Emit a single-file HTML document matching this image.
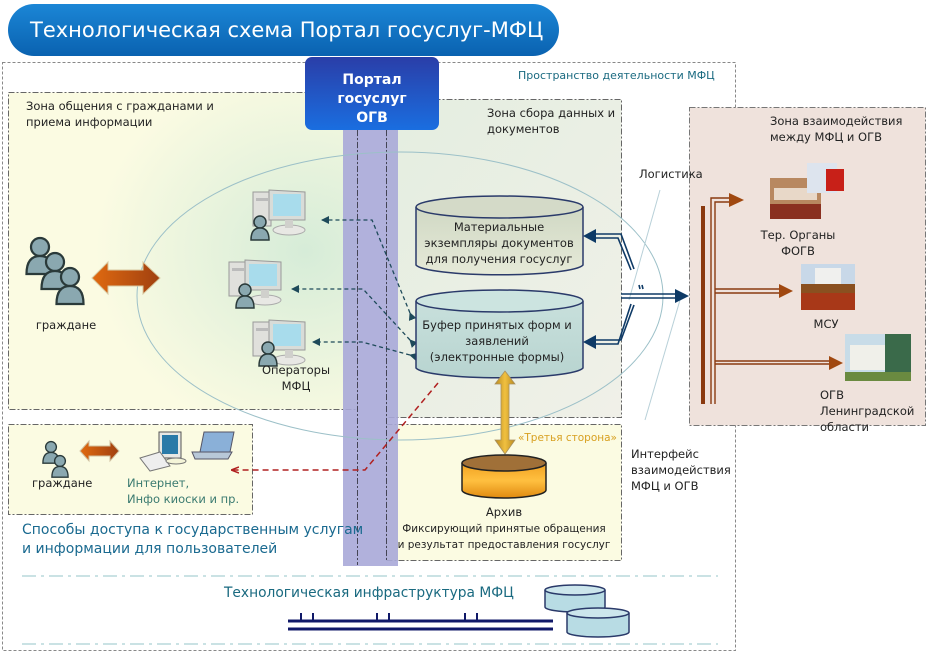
<!DOCTYPE html>
<html><head><meta charset="utf-8"><style>
html,body{margin:0;padding:0;background:#fff;width:950px;height:653px;overflow:hidden}
svg{display:block}
text{font-family:"DejaVu Sans","Liberation Sans",sans-serif}
</style></head><body>
<svg width="950" height="653" viewBox="0 0 950 653" xmlns="http://www.w3.org/2000/svg">
<defs>
<linearGradient id="title" x1="0" y1="0" x2="0" y2="1"><stop offset="0" stop-color="#1b86d6"/><stop offset="1" stop-color="#0a62b0"/></linearGradient>
<linearGradient id="portal" x1="0" y1="0" x2="0" y2="1"><stop offset="0" stop-color="#2a3ea8"/><stop offset="1" stop-color="#1a6ee0"/></linearGradient>
<radialGradient id="zone1" cx="0.85" cy="0.5" r="0.6"><stop offset="0" stop-color="#d6ecd8"/><stop offset="1" stop-color="#fbfbe2"/></radialGradient>
<linearGradient id="zone2" x1="0" y1="0" x2="1" y2="1"><stop offset="0" stop-color="#e4eee0"/><stop offset="1" stop-color="#f0f0e8"/></linearGradient>
<linearGradient id="cyl1" x1="0" y1="0" x2="0" y2="1"><stop offset="0" stop-color="#d0d8c4"/><stop offset="1" stop-color="#e6ead8"/></linearGradient>
<linearGradient id="cyl2" x1="0" y1="0" x2="0" y2="1"><stop offset="0" stop-color="#c8e0dc"/><stop offset="1" stop-color="#b8d4d0"/></linearGradient>
<linearGradient id="orange" x1="0" y1="0" x2="0" y2="1"><stop offset="0" stop-color="#f0a020"/><stop offset="0.5" stop-color="#ffc040"/><stop offset="1" stop-color="#e08a10"/></linearGradient>
<linearGradient id="oarrow" x1="0" y1="0" x2="1" y2="0"><stop offset="0" stop-color="#e06a10"/><stop offset="1" stop-color="#a04010"/></linearGradient>
<linearGradient id="goldv" x1="0" y1="0" x2="1" y2="0"><stop offset="0" stop-color="#b88a20"/><stop offset="0.5" stop-color="#f0c040"/><stop offset="1" stop-color="#b88a20"/></linearGradient>
<marker id="ah" markerWidth="8" markerHeight="8" refX="7" refY="4" orient="auto" markerUnits="userSpaceOnUse"><path d="M0,0 L8,4 L0,8 z" fill="#1e4a5a"/></marker>
<marker id="ahr" markerWidth="8" markerHeight="8" refX="7" refY="4" orient="auto" markerUnits="userSpaceOnUse"><path d="M0,1 L8,4 L0,7" fill="none" stroke="#b02020" stroke-width="1.5"/></marker>
<g id="pc">
<rect x="0" y="2" width="18" height="34" fill="#e0e0dc" stroke="#999" stroke-width="1"/>
<rect x="3" y="8" width="12" height="3" fill="#bbb"/>
<path d="M16,0 L52,2 L52,30 L16,30 z" fill="#d8dcd8" stroke="#999"/>
<rect x="20" y="4" width="28" height="22" fill="#a8dcec"/>
<ellipse cx="36" cy="40" rx="16" ry="5" fill="#e8e8e4" stroke="#aaa"/>
<rect x="32" y="30" width="8" height="8" fill="#d0d0cc"/>
</g>
<g id="person">
<circle cx="0" cy="0" r="6" fill="#8aa8b0" stroke="#2a3a3a" stroke-width="1.5"/>
<path d="M-9,18 Q-9,6 0,6 Q9,6 9,18 z" fill="#8aa8b0" stroke="#2a3a3a" stroke-width="1.5"/>
</g>
</defs>

<rect x="8" y="4" width="551" height="52" rx="26" fill="url(#title)"/>
<text x="30" y="37" font-size="21" fill="#fff">Технологическая схема Портал госуслуг-МФЦ</text>

<rect x="2.5" y="62.5" width="733" height="588" fill="none" stroke="#888" stroke-dasharray="3,2"/>
<text x="518" y="79" font-size="11" fill="#1a6a80">Пространство деятельности МФЦ</text>

<rect x="8.5" y="92.5" width="349" height="317" fill="url(#zone1)" stroke="#666" stroke-dasharray="6,2,2,2"/>
<text x="26" y="110" font-size="11.5" fill="#222">Зона общения  с гражданами и</text>
<text x="26" y="126" font-size="11.5" fill="#222">приема информации</text>

<rect x="386.5" y="99.5" width="235" height="318" fill="url(#zone2)" stroke="#666" stroke-dasharray="6,2,2,2"/>
<text x="487" y="117" font-size="11.5" fill="#222">Зона сбора данных и</text>
<text x="487" y="133" font-size="11.5" fill="#222">документов</text>

<rect x="386.5" y="424.5" width="235" height="136" fill="#fbfbe2" stroke="#666" stroke-dasharray="6,2,2,2"/>
<text x="617" y="441" font-size="10.5" fill="#d8a020" text-anchor="end">«Третья сторона»</text>

<rect x="689.5" y="107.5" width="236" height="318" fill="#efe2dc" stroke="#777" stroke-dasharray="6,2,2,2"/>
<text x="770" y="125" font-size="11.5" fill="#222">Зона взаимодействия</text>
<text x="770" y="141" font-size="11.5" fill="#222">между МФЦ и ОГВ</text>

<rect x="8.5" y="424.5" width="244" height="90" fill="#fbfbe2" stroke="#666" stroke-dasharray="6,2,2,2"/>

<rect x="343" y="128" width="55" height="438" fill="#a8a8d8" opacity="0.9"/>
<line x1="357.5" y1="130" x2="357.5" y2="565" stroke="#445" stroke-dasharray="6,2,2,2"/>
<line x1="386.5" y1="130" x2="386.5" y2="560" stroke="#445" stroke-dasharray="6,2,2,2"/>

<ellipse cx="400" cy="296" rx="263" ry="144" fill="none" stroke="#9cc0c8" stroke-width="1"/>

<rect x="305" y="57" width="134" height="73" rx="7" fill="url(#portal)"/>
<text x="372" y="84" font-size="14" font-weight="bold" fill="#fff" text-anchor="middle">Портал</text>
<text x="372" y="103" font-size="14" font-weight="bold" fill="#fff" text-anchor="middle">госуслуг</text>
<text x="372" y="122" font-size="14" font-weight="bold" fill="#fff" text-anchor="middle">ОГВ</text>

<g transform="translate(40,247) scale(1.5)"><use href="#person"/></g>
<g transform="translate(55,262) scale(1.5)"><use href="#person"/></g>
<g transform="translate(70,277) scale(1.5)"><use href="#person"/></g>
<text x="66" y="329" font-size="11.5" fill="#222" text-anchor="middle">граждане</text>
<path d="M92,278 L108,262 L108,270 L143,270 L143,262 L160,278 L143,294 L143,286 L108,286 L108,294 z" fill="url(#oarrow)" stroke="#d8c8a0"/>

<use href="#pc" x="253" y="190"/>
<g transform="translate(260,222)"><use href="#person"/></g>
<use href="#pc" x="229" y="260"/>
<g transform="translate(245,290)"><use href="#person"/></g>
<use href="#pc" x="253" y="320"/>
<g transform="translate(268,348)"><use href="#person"/></g>
<text x="296" y="374" font-size="11.5" fill="#222" text-anchor="middle">Операторы</text>
<text x="296" y="390" font-size="11.5" fill="#222" text-anchor="middle">МФЦ</text>

<g stroke="#1e4a5a" stroke-width="1.3" stroke-dasharray="4,3" fill="none">
<path d="M410,313 L372,220 L322,220" marker-start="url(#ah)" marker-end="url(#ah)"/>
<path d="M410,340 L363,289 L292,289" marker-start="url(#ah)" marker-end="url(#ah)"/>
<path d="M410,355 L362,342 L313,342" marker-start="url(#ah)" marker-end="url(#ah)"/>
</g>
<path d="M438,383 L365,470 L232,470" stroke="#b02020" stroke-width="1.5" stroke-dasharray="6,4" fill="none" marker-end="url(#ahr)"/>

<path d="M416,207 L416,265 A84,11 0 0 0 583,265 L583,207" fill="url(#cyl1)" stroke="#2a3a6a" stroke-width="1.5"/>
<ellipse cx="499.5" cy="207" rx="83.5" ry="11" fill="#d4dac8" stroke="#2a3a6a" stroke-width="1.5"/>
<text x="499" y="231" font-size="11.5" fill="#222" text-anchor="middle">Материальные</text>
<text x="499" y="247" font-size="11.5" fill="#222" text-anchor="middle">экземпляры документов</text>
<text x="499" y="263" font-size="11.5" fill="#222" text-anchor="middle">для получения госуслуг</text>

<path d="M416,301 L416,368 A84,11 0 0 0 583,368 L583,301" fill="url(#cyl2)" stroke="#2a3a6a" stroke-width="1.5"/>
<ellipse cx="499.5" cy="301" rx="83.5" ry="11" fill="#cce4e0" stroke="#2a3a6a" stroke-width="1.5"/>
<text x="497" y="329" font-size="11.5" fill="#222" text-anchor="middle">Буфер принятых форм и</text>
<text x="497" y="345" font-size="11.5" fill="#222" text-anchor="middle">заявлений</text>
<text x="497" y="361" font-size="11.5" fill="#222" text-anchor="middle">(электронные формы)</text>

<path d="M505,371 L515,384 L509,384 L509,440 L515,440 L505,454 L495,440 L501,440 L501,384 L495,384 z" fill="url(#goldv)" stroke="#a89060" stroke-width="0.8"/>

<path d="M462,463 L462,490 A42,8 0 0 0 546,490 L546,463" fill="url(#orange)" stroke="#222" stroke-width="1.5"/>
<ellipse cx="504" cy="463" rx="42" ry="8" fill="#a07038" stroke="#222" stroke-width="1.5"/>
<text x="504" y="516" font-size="11.5" fill="#222" text-anchor="middle">Архив</text>
<text x="504" y="532" font-size="10.5" fill="#222" text-anchor="middle">Фиксирующий принятые обращения</text>
<text x="504" y="548" font-size="10.5" fill="#222" text-anchor="middle">и результат предоставления госуслуг</text>

<text x="639" y="178" font-size="11.5" fill="#222">Логистика</text>
<line x1="629" y1="300" x2="660" y2="190" stroke="#b8d0d8" stroke-width="1"/>
<line x1="645" y1="420" x2="680" y2="300" stroke="#b8d0d8" stroke-width="1"/>
<g stroke="#0e3a66" stroke-width="1.6" fill="none">
<path d="M594,234 L621,234 L634,269"/><path d="M594,238 L618,238 L631,270"/>
<path d="M594,340 L621,340 L634,305"/><path d="M594,344 L618,344 L631,304"/>
<path d="M621,294 L676,294"/><path d="M621,298 L676,298"/>
<path d="M639,285 L640,289"/><path d="M642,285 L643,289"/>
</g>
<path d="M583,236 L596,229 L596,243 z" fill="#0e3a66"/>
<path d="M583,342 L596,335 L596,349 z" fill="#0e3a66"/>
<path d="M689,296 L675,289 L675,303 z" fill="#0e3a66"/>
<text x="631" y="458" font-size="11.5" fill="#222">Интерфейс</text>
<text x="631" y="474" font-size="11.5" fill="#222">взаимодействия</text>
<text x="631" y="490" font-size="11.5" fill="#222">МФЦ и ОГВ</text>

<rect x="701" y="206" width="4" height="198" fill="#8a3a10"/>
<g stroke="#8a3a10" stroke-width="1.4" fill="none">
<path d="M711,404 L711,198 L730,198"/><path d="M715,404 L715,202 L730,202"/>
<path d="M715,289 L780,289"/><path d="M715,293 L780,293"/>
<path d="M715,361 L830,361"/><path d="M715,364 L830,364"/>
</g>
<path d="M744,200 L729,193 L729,207 z" fill="#a04810"/>
<path d="M793,291 L779,284 L779,298 z" fill="#a04810"/>
<path d="M843,363 L829,356 L829,370 z" fill="#a04810"/>

<rect x="770" y="178" width="51" height="41" fill="#b88860"/>
<rect x="770" y="204" width="51" height="15" fill="#8a3020"/>
<rect x="774" y="188" width="43" height="12" fill="#e8d8c8"/>
<rect x="807" y="163" width="30" height="30" fill="#dde4ee"/>
<rect x="826" y="169" width="18" height="22" fill="#c82018"/>
<rect x="801" y="277" width="54" height="33" fill="#8a5020"/>
<rect x="801" y="264" width="54" height="20" fill="#c8d8e8"/>
<rect x="815" y="268" width="26" height="16" fill="#f0f0ee"/>
<rect x="801" y="293" width="54" height="17" fill="#a83818"/>
<rect x="845" y="334" width="66" height="47" fill="#c8dce8"/>
<rect x="850" y="345" width="38" height="25" fill="#f0f0ea"/>
<rect x="885" y="334" width="26" height="47" fill="#3a6a4a"/>
<rect x="845" y="372" width="66" height="9" fill="#6a8a40"/>
<text x="798" y="239" font-size="11.5" fill="#222" text-anchor="middle">Тер. Органы</text>
<text x="798" y="255" font-size="11.5" fill="#222" text-anchor="middle">ФОГВ</text>
<text x="826" y="328" font-size="11.5" fill="#222" text-anchor="middle">МСУ</text>
<text x="820" y="399" font-size="11.5" fill="#222">ОГВ</text>
<text x="820" y="415" font-size="11.5" fill="#222">Ленинградской</text>
<text x="820" y="431" font-size="11.5" fill="#222">области</text>

<g transform="translate(51,447) scale(0.9)"><use href="#person"/></g>
<g transform="translate(60,461) scale(0.9)"><use href="#person"/></g>
<path d="M80,451 L89,441 L89,446 L110,446 L110,441 L119,451 L110,461 L110,456 L89,456 L89,461 z" fill="url(#oarrow)" stroke="#d0c0a0"/>
<rect x="159" y="432" width="22" height="26" fill="#e8e8e4" stroke="#555"/>
<rect x="162" y="435" width="16" height="19" fill="#2a7aa8"/>
<path d="M140,458 L160,452 L170,466 L150,471 z" fill="#eee" stroke="#777"/>
<ellipse cx="176" cy="461" rx="10" ry="3" fill="#f4f4d8" stroke="#777"/>
<path d="M204,432 L234,432 L230,452 L200,452 z" fill="#8ab0d8" stroke="#556"/>
<path d="M192,452 L232,452 L228,459 L195,459 z" fill="#b8c8d8" stroke="#556"/>
<text x="32" y="487" font-size="11.5" fill="#222">граждане</text>
<text x="127" y="487" font-size="11.5" fill="#3a7a70">Интернет,</text>
<text x="127" y="503" font-size="11.5" fill="#3a7a70">Инфо киоски и пр.</text>
<text x="22" y="534" font-size="14" fill="#1a6a90">Способы доступа к государственным услугам</text>
<text x="22" y="553" font-size="14" fill="#1a6a90">и информации для пользователей</text>

<line x1="22" y1="576" x2="718" y2="576" stroke="#b8d8dc" stroke-width="1.5" stroke-dasharray="14,5,3,5"/>
<line x1="22" y1="644" x2="718" y2="644" stroke="#b8d8dc" stroke-width="1.5" stroke-dasharray="14,5,3,5"/>
<text x="224" y="597" font-size="13.8" fill="#1a6a80">Технологическая инфраструктура МФЦ</text>
<g stroke="#101868" stroke-width="3">
<line x1="288" y1="621" x2="553" y2="621"/><line x1="288" y1="629" x2="553" y2="629"/>
</g>
<g stroke="#101868" stroke-width="2">
<line x1="301" y1="613" x2="301" y2="621"/><line x1="313" y1="613" x2="313" y2="621"/>
<line x1="377" y1="613" x2="377" y2="621"/><line x1="389" y1="613" x2="389" y2="621"/>
<line x1="465" y1="613" x2="465" y2="621"/><line x1="477" y1="613" x2="477" y2="621"/>
</g>
<path d="M545,590 L545,607 A30,5 0 0 0 605,607 L605,590" fill="#b8dce4" stroke="#2a3a6a" stroke-width="1.5"/>
<ellipse cx="575" cy="590" rx="30" ry="5" fill="#cce6ec" stroke="#2a3a6a" stroke-width="1.5"/>
<path d="M567,613 L567,632 A31,5 0 0 0 629,632 L629,613" fill="#b8dce4" stroke="#2a3a6a" stroke-width="1.5"/>
<ellipse cx="598" cy="613" rx="31" ry="5" fill="#cce6ec" stroke="#2a3a6a" stroke-width="1.5"/>
</svg>
</body></html>
